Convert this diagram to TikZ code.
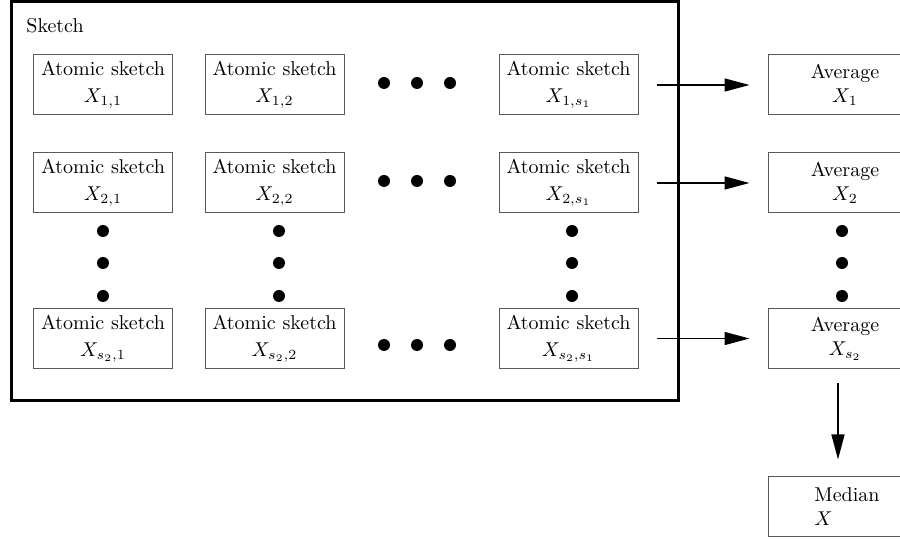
\documentclass[tikz,border=0pt]{standalone}
\usetikzlibrary{arrows.meta}
\begin{document}
\begin{tikzpicture}[x=0.5pt,y=-0.5pt,
  atom/.style={draw=black!65, line width=0.5pt, minimum width=69.5pt, minimum height=30pt, align=center, inner sep=0pt},
  frame/.style={draw=black, line width=1.5pt, minimum width=333.5pt, minimum height=199.5pt, inner sep=0pt},
  rbox/.style={draw=black!65, line width=0.5pt, minimum width=77pt, minimum height=30pt, align=center, inner sep=0pt},
  arr/.style={line width=0.75pt, -{Triangle[length=12.5pt,width=6.5pt]}},
  dotmark/.style={fill=black}]
\useasboundingbox (0,0) rectangle (900,539);
\clip (0,0) rectangle (900,539);

% outer frame
\node[frame] (sketch) at (344.5,201.5) {};
\node[anchor=base west, inner sep=0pt] (lbl) at (26,33) {Sketch};

% atomic sketches
\node[atom] (a11) at (103,85)   {Atomic sketch\\[1.5pt]$X_{1,1}$};
\node[atom] (a12) at (274.5,85) {Atomic sketch\\[1.5pt]$X_{1,2}$};
\node[atom] (a13) at (568.5,85) {Atomic sketch\\[1.5pt]$X_{1,s_1}$};
\node[atom] (a21) at (103,183)   {Atomic sketch\\[1.5pt]$X_{2,1}$};
\node[atom] (a22) at (274.5,183) {Atomic sketch\\[1.5pt]$X_{2,2}$};
\node[atom] (a23) at (568.5,183) {Atomic sketch\\[1.5pt]$X_{2,s_1}$};
\node[atom] (a31) at (103,338.5)   {Atomic sketch\\[1.5pt]$X_{s_2,1}$};
\node[atom] (a32) at (274.5,338.5) {Atomic sketch\\[1.5pt]$X_{s_2,2}$};
\node[atom] (a33) at (568.5,338.5) {Atomic sketch\\[1.5pt]$X_{s_2,s_1}$};

% right column
\node[rbox] (avg1) at (845,85)    {Average\\$X_1$};
\node[rbox] (avg2) at (845,183)   {Average\\$X_2$};
\node[rbox] (avg3) at (845,338.5) {Average\\$X_{s_2}$};
\node[draw=black!65, line width=0.5pt, minimum width=79pt, minimum height=30pt, align=left, inner sep=0pt] (med) at (847,507) {Median\\$X$};

% horizontal dots
\foreach \y in {83,181,345} {
  \foreach \x in {384,417,450} {
    \fill[dotmark] (\x,\y) circle[radius=3pt];
  }
}
% vertical dots
\foreach \x in {103,279,572,842} {
  \foreach \y in {231,263,296} {
    \fill[dotmark] (\x,\y) circle[radius=3pt];
  }
}

% arrows
\draw[arr, shorten <=9pt, shorten >=9pt] (a13.east) -- (avg1.west);
\draw[arr, shorten <=9pt, shorten >=9pt] (a23.east) -- (avg2.west);
\draw[arr, shorten <=9pt, shorten >=9pt] (a33.east) -- (avg3.west);
\draw[arr, shorten <=7pt, shorten >=8.5pt] ([xshift=-3.5pt]avg3.south) -- ([xshift=-3.5pt]avg3.south |- med.north);
\end{tikzpicture}
\end{document}
